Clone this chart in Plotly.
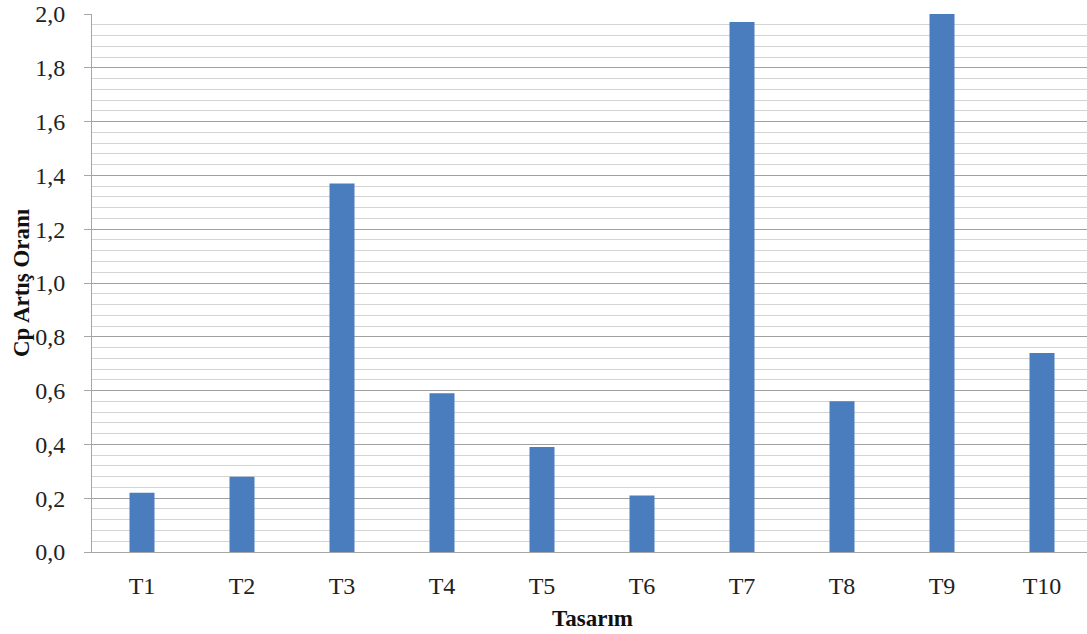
import plotly.graph_objects as go

categories = ["T1", "T2", "T3", "T4", "T5", "T6", "T7", "T8", "T9", "T10"]
values = [0.22, 0.28, 1.37, 0.59, 0.39, 0.21, 1.97, 0.56, 2.00, 0.74]
y_tickvals = [0.0, 0.2, 0.4, 0.6, 0.8, 1.0, 1.2, 1.4, 1.6, 1.8, 2.0]
x_title = "Tasarım"
y_title = "Cp Artış Oranı"

FONT = "Liberation Serif, Times New Roman, serif"

fig = go.Figure(go.Bar(
    x=list(range(len(categories))), y=values,
    marker=dict(color="#4a7dbd", line=dict(width=0)),
    width=0.25,
))

fig.update_layout(
    width=1087, height=634,
    margin=dict(l=92, r=0, t=14, b=82, autoexpand=False),
    paper_bgcolor="white", plot_bgcolor="white",
    separators=", ",
    showlegend=False,
    font=dict(family=FONT, size=24, color="#222222"),
    annotations=[
        dict(text=x_title, x=4.5, xref="x", y=(552 - 618) / 538, yref="paper",
             showarrow=False, xanchor="center", yanchor="middle",
             font=dict(family=FONT, size=23, color="#111111", weight="bold")),
        dict(text=y_title, x=(21 - 92) / 995, xref="paper", y=0.5, yref="paper",
             showarrow=False, xanchor="center", yanchor="middle", textangle=-90,
             font=dict(family=FONT, size=23, color="#111111", weight="bold")),
    ],
)

fig.update_xaxes(
    range=[-0.5, 9.45], automargin=False,
    tickvals=list(range(len(categories))), ticktext=categories,
    showgrid=False, zeroline=False,
    showline=True, linecolor="#a6a6a6", linewidth=1,
    ticks="", ticklabelstandoff=12,
    tickfont=dict(family=FONT, size=24, color="#222222"),
)

fig.update_yaxes(
    range=[0, 2.0], automargin=False,
    tickvals=y_tickvals, tickformat=".1f",
    showgrid=True, gridcolor="#a0a0a0", gridwidth=1,
    minor=dict(dtick=0.04, tick0=0, showgrid=True, gridcolor="#d4d4d4", gridwidth=1, ticks=""),
    zeroline=False,
    showline=True, linecolor="#a6a6a6", linewidth=1,
    ticks="outside", ticklen=7, tickcolor="#a6a6a6",
    ticklabelstandoff=14,
    tickfont=dict(family=FONT, size=24, color="#222222"),
)

fig.write_html(
    "out.html",
    config={"displayModeBar": False},
    post_script="document.body.style.margin='0';document.body.style.overflow='hidden';",
)
